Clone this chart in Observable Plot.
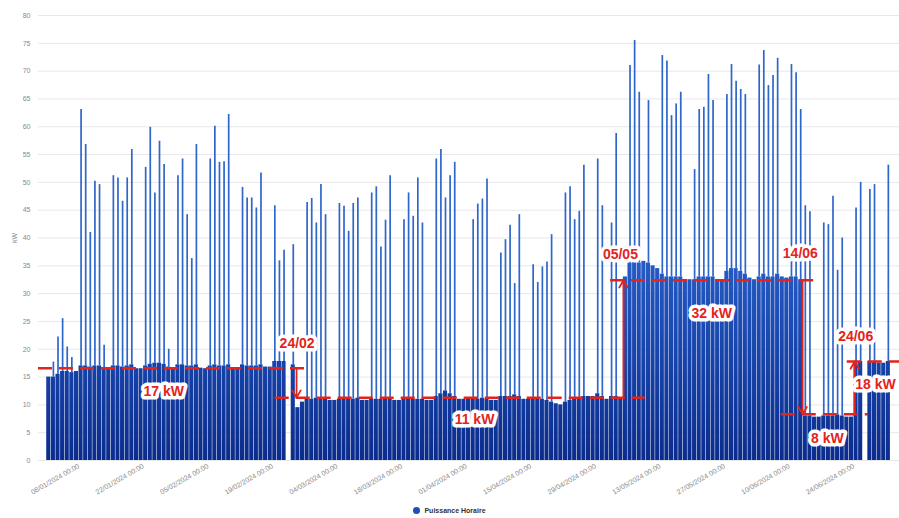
<!DOCTYPE html>
<html><head><meta charset="utf-8">
<script src="https://cdn.jsdelivr.net/npm/d3@7"></script>
<script src="https://cdn.jsdelivr.net/npm/@observablehq/plot@0.6"></script>
<style>
body{margin:0;background:#fff;font-family:"Liberation Sans",Arial,sans-serif;}
#chart svg{display:block;}
#legend{height:16px;display:flex;justify-content:center;align-items:center;font-size:7px;font-weight:bold;color:#333;}
#legend .dot{width:7px;height:7px;border-radius:50%;background:#1f4fb5;margin-right:4px;}
</style></head><body>
<div id="chart"></div>
<div id="legend"><span class="dot"></span><span id="legendText"></span></div>
<script>
// ---- data (one value per day, starting 01/01/2024) ----
const startDay = "2024-01-01";
const seriesName = "Puissance Horaire";
const baseKW = [
 15,15,15.5,16,16,15.8,16,
 17,17,16.8,17,17,16.5,16.5,
 17,17,16.8,17,17.2,16.5,16.5,
 17,17.3,17.5,17.5,17.3,16.8,16.5,
 17.2,17.2,17,17,17.2,16.6,16.5,
 17,17.2,17,17,17.2,16.6,16.5,
 17.2,17,17,17,17.2,16.8,16.8,
 17.8,17.8,17.8,null,17.2,9.5,10.5,
 11,11,11.2,11,11,10.8,10.8,
 11,11,11,11,11.2,10.8,10.8,
 11,11,11,11.2,11,10.8,10.8,
 11,11.2,11,11,11,10.8,10.8,
 11.5,12,12.5,12,11.5,11,11,
 11,11,11,11.2,11,10.8,10.8,
 11.5,11.5,11.5,11.8,11.5,11,11,
 11,11,11,10.8,10.5,10.2,10,
 10.5,10.8,11,11.2,11.5,11.5,11.5,
 12,11.5,11,11.5,11.5,11.2,33,
 35.5,35.8,35.5,35.8,35.5,35,34.5,
 33.5,33,33,33,33,32.5,32.5,
 32.5,33,33,33,33,32.5,32.5,
 34,34.5,34.5,34,33.5,32.8,32.5,
 33,33.5,33,33,33.5,33,32.8,
 33,33,32.5,8,8,7.8,7.8,
 8,8,8,8.2,8,7.8,7.8,
 17.5,17.8,null,17.8,17.8,17.5,17.5,
 17.8
];
const peakKW = [
 null,17.7,22.2,25.5,20.4,18.5,null,
 63.1,56.8,41,50.2,49.6,20.7,null,
 51.2,50.8,46.6,50.8,55.9,null,null,
 52.7,59.9,48.1,57.4,53.2,20,null,
 51.2,54.2,44.2,36.3,56.8,null,null,
 54.2,60.1,53.6,53.7,62.2,null,null,
 49.1,47.2,47.2,45.4,51.7,null,null,
 45.8,35.9,37.8,null,38.8,null,null,
 46.4,47.1,42.7,49.6,44.2,null,null,
 46.2,45.7,41.2,46.2,47.2,null,null,
 48.1,49.2,38.4,43.2,51.2,null,null,
 43.3,48.1,43.9,50.8,42.7,null,null,
 54.2,55.9,47.2,51.2,53.6,null,null,
 null,43.3,46.1,47,50.6,null,null,
 37.3,39.7,42.3,31.8,44.2,null,null,
 35.2,32,34.8,35.7,40.6,null,null,
 48.1,49.2,43.3,44.8,53.1,null,null,
 54.2,45.8,null,42.7,58.8,null,null,
 71,75.5,66.2,null,64.7,null,null,
 72.8,71.8,62,64.1,66.2,null,null,
 52.3,63.1,63.5,69.4,64.7,null,null,
 65.8,71.2,68.2,66.7,65.8,null,null,
 71.1,73.7,67.4,69.2,72.3,null,null,
 71.2,69.7,63.1,45.8,44.7,null,null,
 42.7,42.4,47.5,34.2,40,null,null,
 45.4,50,null,48.7,49.6,null,null,
 53.1
];
const yTicks = [0,5,10,15,20,25,30,35,40,45,50,55,60,65,70,75,80];
const xTickDates = ["2024-01-08","2024-01-22","2024-02-05","2024-02-19","2024-03-04","2024-03-18","2024-04-01","2024-04-15","2024-04-29","2024-05-13","2024-05-27","2024-06-10","2024-06-24"];
const xDomain = ["2023-12-30T06:30Z","2024-07-03T22:00Z"];

// ---- annotations ----
const levelLabels = ["17 kW","11 kW","32 kW","8 kW","18 kW"];
const levelKW = [16.6, 11.3, 32.4, 8.3, 17.8];
const levelFrom = ["2023-12-30T06:30Z","2024-02-19T14:00Z","2024-05-02T07:00Z","2024-06-08T07:00Z","2024-06-22T14:00Z"];
const levelTo = ["2024-02-26T02:00Z","2024-05-09T19:00Z","2024-06-15T12:00Z","2024-06-27T05:00Z","2024-07-03T22:00Z"];
const levelTextAt = ["2024-01-26T10:00Z","2024-04-02T19:00Z","2024-05-24T05:00Z","2024-06-18T07:00Z","2024-06-28T17:00Z"];
const levelTextKW = [12.4, 7.4, 26.4, 4, 13.7];

const changeLabels = ["24/02","05/05","14/06","24/06"];
const changeAt = ["2024-02-24T05:00Z","2024-05-05T02:00Z","2024-06-12T22:00Z","2024-06-24T05:00Z"];
const changeFromKW = [16.6, 11.3, 32.4, 8.3];
const changeToKW = [11.3, 32.4, 8.3, 17.8];
const changeTextAt = ["2024-02-24T08:00Z","2024-05-04T10:00Z","2024-06-12T10:00Z","2024-06-24T10:00Z"];
const changeTextKW = [21.1, 37, 37.2, 22.3];

// ---- build ----
const d0 = new Date(startDay + "T00:00Z");
const day = (i, h = 0) => new Date(d0.getTime() + (i * 24 + h) * 3600e3);
const rows = baseKW.map((b, i) => ({start: day(i), end: day(i + 1), mid: day(i, 12), base: b, peak: peakKW[i]}));
const levels = levelLabels.map((l, i) => ({label: l, kw: levelKW[i], from: new Date(levelFrom[i]), to: new Date(levelTo[i]), tx: new Date(levelTextAt[i]), ty: levelTextKW[i]}));
const changes = changeLabels.map((l, i) => ({label: l, x: new Date(changeAt[i]), y1: changeFromKW[i], y2: changeToKW[i], tx: new Date(changeTextAt[i]), ty: changeTextKW[i]}));
const red = "#e3241c";
const fmt = d3.utcFormat("%d/%m/%Y %H:%M");

const chart = Plot.plot({
  width: 899, height: 502,
  marginLeft: 38, marginRight: 0, marginTop: 15, marginBottom: 42,
  style: {fontFamily: "'Liberation Sans', Arial, sans-serif", background: "transparent", overflow: "visible"},
  x: {type: "utc", domain: xDomain.map(d => new Date(d))},
  y: {domain: [0, 80]},
  marks: [
    Plot.gridY(yTicks, {stroke: "#e8e8e8", strokeOpacity: 1}),
    Plot.axisY(yTicks, {tickSize: 0, tickPadding: 8, fontSize: 7, fill: "#888", label: "kW", labelAnchor: "center", labelArrow: "none", labelOffset: 26}),
    Plot.axisX(xTickDates.map(d => new Date(d + "T00:00Z")), {tickFormat: fmt, tickRotate: -30, tickSize: 0, tickPadding: 5, fontSize: 7, fill: "#8a8a8a", label: null}),
    Plot.ruleX(rows.filter(r => r.peak != null), {x: "mid", y1: "base", y2: "peak", stroke: "#2f66ca", strokeWidth: 1.7}),
    Plot.rectY(rows.filter(r => r.base != null), {x1: "start", x2: "end", y: "base", fill: "url(#barGrad)", insetLeft: 0.25, insetRight: 0.25}),
    Plot.ruleY(levels, {y: "kw", x1: "from", x2: "to", stroke: red, strokeWidth: 2.5, strokeDasharray: "14,7"}),
    Plot.arrow(changes, {x: "x", y1: "y1", y2: "y2", stroke: red, strokeWidth: 1.8, headLength: 7, bend: 0}),
    Plot.text(levels, {x: "tx", y: "ty", text: "label", fill: red, stroke: "white", strokeWidth: 7, strokeLinejoin: "round", fontSize: 14, fontWeight: "bold"}),
    Plot.text(changes, {x: "tx", y: "ty", text: "label", fill: red, stroke: "white", strokeWidth: 7, strokeLinejoin: "round", fontSize: 14, fontWeight: "bold"})
  ]
});

const ns = "http://www.w3.org/2000/svg";
const yS = chart.scale("y");
const defs = document.createElementNS(ns, "defs");
defs.innerHTML = `<linearGradient id="barGrad" gradientUnits="userSpaceOnUse" x1="0" x2="0" y1="${yS.apply(40)}" y2="${yS.apply(0)}">
<stop offset="0" stop-color="#2a60cc"/><stop offset="0.45" stop-color="#1a48b0"/><stop offset="1" stop-color="#0b2c8c"/></linearGradient>`;
chart.insertBefore(defs, chart.firstChild);
document.getElementById("chart").appendChild(chart);
document.getElementById("legendText").textContent = seriesName;
</script>
</body></html>
